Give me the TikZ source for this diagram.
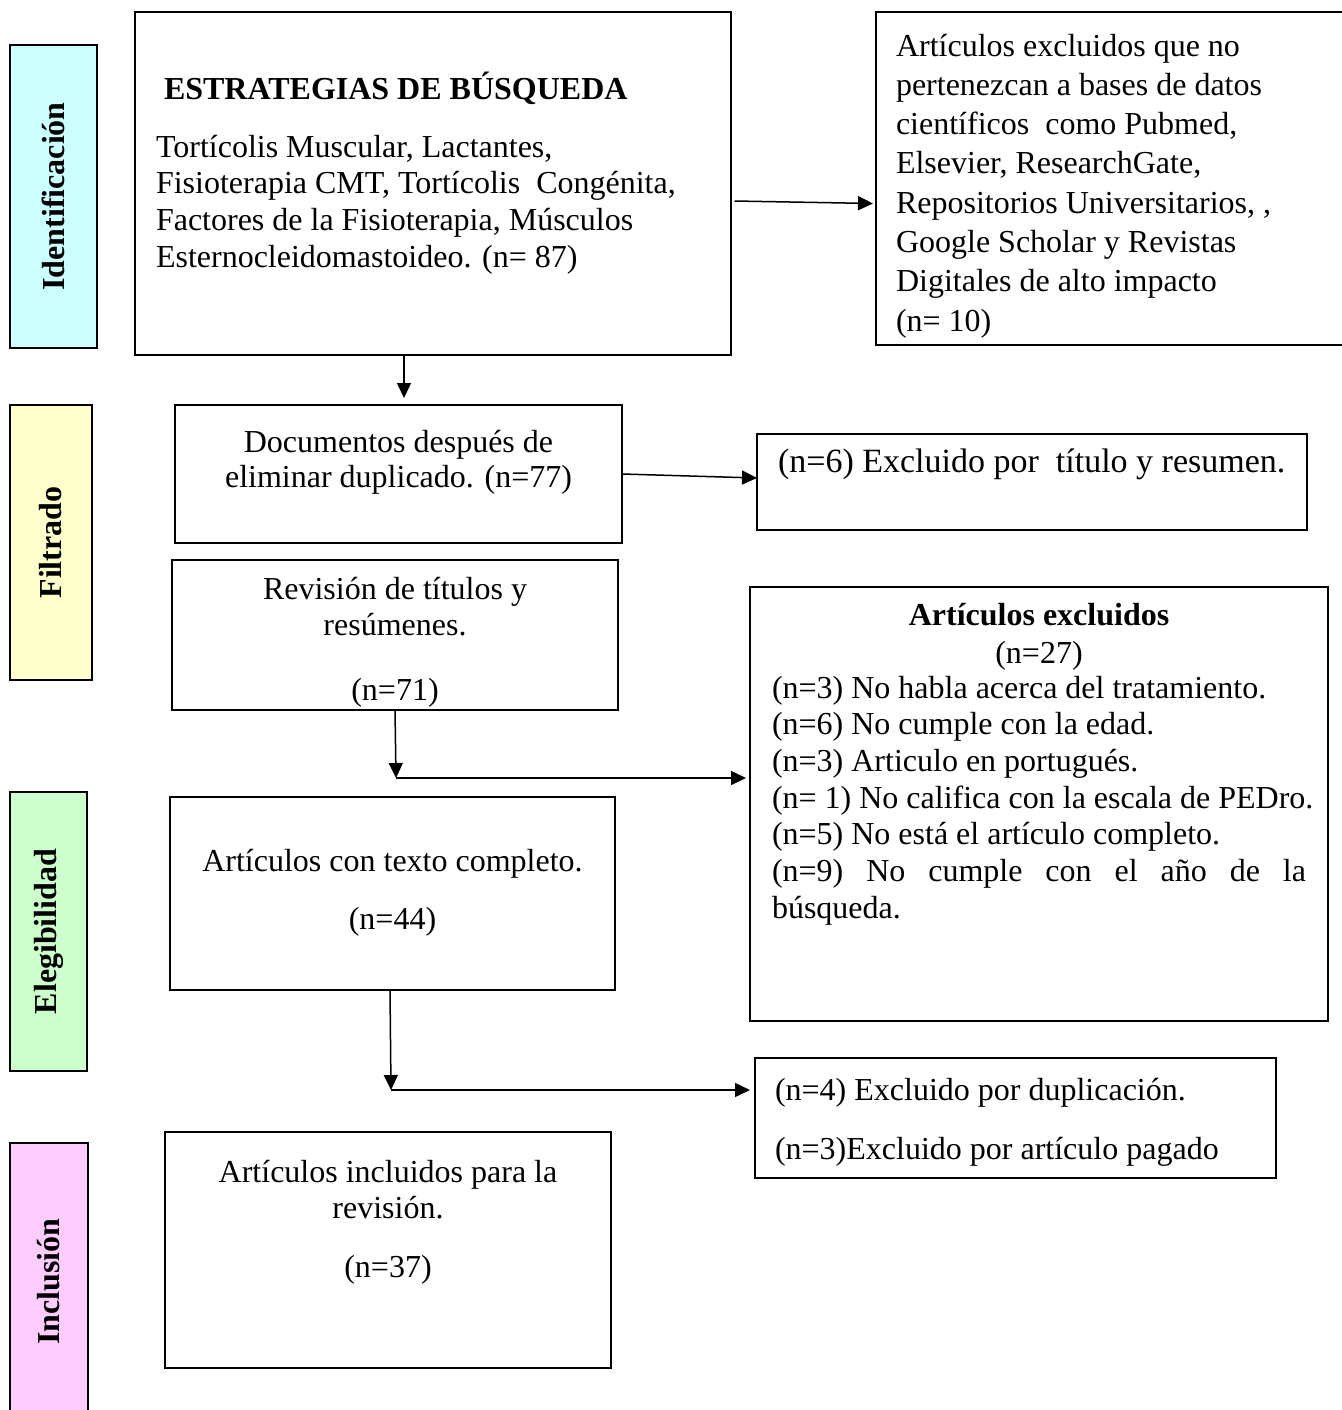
\documentclass[tikz,border=0pt]{standalone}
\usepackage{fontspec}
\setmainfont{Liberation Serif}
\usepackage{graphicx}
\usetikzlibrary{arrows.meta,calc}
\definecolor{sidecyan}{HTML}{CCFFFF}
\definecolor{sideyellow}{HTML}{FFFFCC}
\definecolor{sidegreen}{HTML}{CCFFCC}
\definecolor{sidepink}{HTML}{FFCCFF}
\begin{document}
\begin{tikzpicture}[x=1pt,y=-1pt,
  box/.style={draw, line width=2.5pt, inner sep=0pt, outer sep=0pt},
  side/.style={draw, line width=2.5pt, inner sep=0pt, outer sep=0pt, font=\fontsize{32}{38}\selectfont\bfseries},
  arr/.style={line width=1.5pt, -{Triangle[length=15pt,width=14pt]}},
  txt/.style={inner sep=0pt, outer sep=0pt, font=\fontsize{32}{36.7}\selectfont},
]
\useasboundingbox[fill=white] (0,0) rectangle (1341,1410);

% side labels
\node[side, fill=sidecyan, minimum width=87pt, minimum height=303pt] (s1) at (53.5,196.5) {\rotatebox{90}{Identificación}};
\node[side, fill=sideyellow, minimum width=82pt, minimum height=275pt] (s2) at (51,542.5) {\rotatebox{90}{Filtrado}};
\node[side, fill=sidegreen, minimum width=77pt, minimum height=279pt] (s3) at (48.5,931.5) {\rotatebox{90}{Elegibilidad}};
\node[side, fill=sidepink, minimum width=78pt, minimum height=277pt] (s4) at (49,1281.5) {\rotatebox{90}{Inclusión}};

% boxes
\node[box, minimum width=596pt, minimum height=343pt] (b1) at (433,183.5) {};
\node[box, minimum width=469pt, minimum height=333pt] (b1r) at (1110.5,178.5) {};
\node[box, minimum width=447pt, minimum height=138pt] (b2) at (398.5,474) {};
\node[box, minimum width=550pt, minimum height=96pt] (b3) at (1032,482) {};
\node[box, minimum width=446pt, minimum height=150pt] (b4) at (395,635) {};
\node[box, minimum width=578pt, minimum height=434pt] (big) at (1039,804) {};
\node[box, minimum width=445pt, minimum height=193pt] (b5) at (392.5,893.5) {};
\node[box, minimum width=521pt, minimum height=120pt] (b7) at (1015.5,1118) {};
\node[box, minimum width=446pt, minimum height=236pt] (b6) at (388,1250) {};

% texts
\node[txt, anchor=base west] (h1) at (164,100) {\bfseries ESTRATEGIAS DE BÚSQUEDA};
\node[txt, anchor=north west, align=left] (t1) at (156,127) {\rule{0pt}{30pt}Tortícolis Muscular, Lactantes,\\ Fisioterapia CMT, Tortícolis~ Congénita,\\ Factores de la Fisioterapia, Músculos\\ Esternocleidomastoideo. (n= 87)};

\node[txt, anchor=north west, align=left, font=\fontsize{32}{39.3}\selectfont] (t1r) at (896,26) {\rule{0pt}{30pt}Artículos excluidos que no\\ pertenezcan a bases de datos\\ científicos~ como Pubmed,\\ Elsevier, ResearchGate,\\ Repositorios Universitarios, ,\\ Google Scholar y Revistas\\ Digitales de alto impacto\\ (n= 10)};

\node[txt, anchor=north, align=center, font=\fontsize{32}{35}\selectfont] (t2) at (398.5,422) {\rule{0pt}{30pt}Documentos después de\\ eliminar duplicado. (n=77)};

\node[txt, anchor=base west, font=\fontsize{34}{38}\selectfont] (t3) at (778,472) {(n=6) Excluido por~ título y resumen.};

\node[txt, anchor=north, align=center] (t4) at (395,569) {\rule{0pt}{30pt}Revisión de títulos y\\ resúmenes.\\[28pt] (n=71)};

\node[txt, anchor=north, align=center, font=\fontsize{32}{38}\selectfont] (th) at (1039,595) {\rule{0pt}{30pt}\textbf{Artículos excluidos}\\ (n=27)};
\node[txt, anchor=north west, align=left] (t7) at (772,668) {\rule{0pt}{30pt}(n=3) No habla acerca del tratamiento.\\ (n=6) No cumple con la edad.\\ (n=3) Articulo en portugués.\\ (n= 1) No califica con la escala de PEDro.\\ (n=5) No está el artículo completo.\\ \leavevmode\hbox to 534pt{(n=9)\hfill No\hfill cumple\hfill con\hfill el\hfill año\hfill de\hfill la}\\ búsqueda.};

\node[txt, anchor=north, align=center] (t5) at (392.5,841) {\rule{0pt}{30pt}Artículos con texto completo.\\[21.3pt] (n=44)};

\node[txt, anchor=north west, align=left] (t8) at (775,1070) {\rule{0pt}{30pt}(n=4) Excluido por duplicación.\\[22.3pt] (n=3)Excluido por artículo pagado};

\node[txt, anchor=north, align=center, font=\fontsize{32}{36}\selectfont] (t6) at (388,1152) {\rule{0pt}{30pt}Artículos incluidos para la\\ revisión.\\[23pt] (n=37)};

% connectors
\coordinate (a1s) at ($(b1.east)+(3.5,17.5)$);
\coordinate (a1e) at ($(b1r.west)+(-3,25)$);
\draw[arr] (a1s) -- (a1e);

\coordinate (a2s) at ($(b1.south)+(-29,0)$);
\draw[arr, shorten >=7pt] (a2s) -- (a2s |- b2.north);

\coordinate (a3e) at ($(b3.west)+(0,-4)$);
\draw[arr] (b2.east) -- (a3e);

\coordinate (c4) at ($(b4.south)+(1,68)$);
\draw[arr] (b4.south) -- (c4);
\draw[arr, shorten >=4pt] (c4) -- (c4 -| big.west);

\coordinate (a5s) at ($(b5.south)+(-2.5,0)$);
\coordinate (c5) at ($(b5.south)+(-1.5,100)$);
\draw[arr] (a5s) -- (c5);
\draw[arr, shorten >=5pt] (c5) -- (c5 -| b7.west);
\end{tikzpicture}
\end{document}
